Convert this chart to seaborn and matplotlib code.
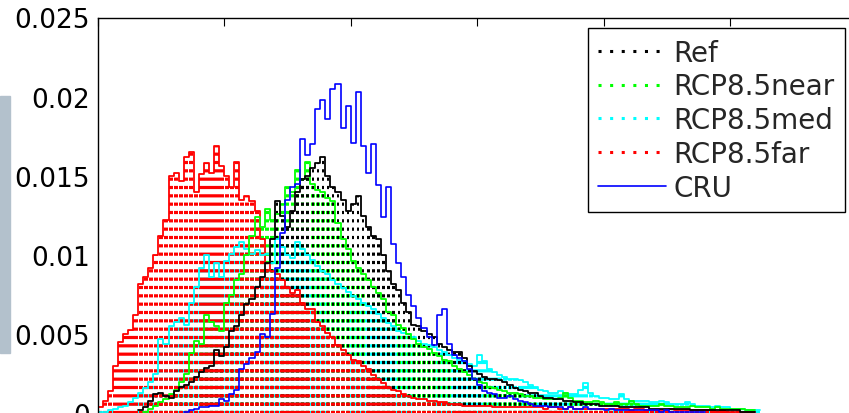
import numpy as np
import pandas as pd
import matplotlib
matplotlib.use("Agg")
import matplotlib.pyplot as plt
import seaborn as sns
from matplotlib.lines import Line2D
from matplotlib.patches import Rectangle

# ---------------- data (densities in units of 1e-4) ----------------
BIN_WIDTH = 0.04
DENSITY_UNIT = 1e-4

labels = ["Ref", "RCP8.5near", "RCP8.5med", "RCP8.5far", "CRU"]
colors = ["#000000", "#00ff00", "#00ffff", "#ff0000", "#0000ff"]

ref_start = 8
ref_vals = [2, 4,
            8, 12, 13, 11, 10, 14, 17, 18, 20, 23,
            26, 29, 30, 40, 36, 42, 52, 55, 62, 69,
            72, 80, 86, 95, 110, 134, 125, 118, 128, 140,
            148, 150, 155, 158, 162, 150, 143, 140, 135, 128,
            132, 137, 125, 118, 112, 110, 100, 90, 82, 78,
            70, 64, 56, 55, 52, 50, 48, 44, 42, 40,
            39, 39, 35, 30, 27, 25, 23, 22, 22, 21,
            20, 18, 16, 15, 14, 13, 13, 11, 10, 10,
            9, 9, 8, 8, 7, 7, 6, 6, 6, 5,
            5, 5, 5, 4, 4, 4, 4, 4, 4, 3,
            3, 3, 3, 3, 3, 3, 3, 2, 2, 2,
            2, 2, 2, 2, 2, 2, 2, 1, 1, 1]

near_start = 9
near_vals = [1,
             3, 5, 7, 9, 12, 15, 20, 25, 38, 46,
             44, 62, 58, 55, 52, 70, 75, 84, 88, 100,
             112, 124, 118, 129, 122, 126, 132, 143, 140, 154,
             148, 159, 145, 141, 140, 136, 134, 120, 110, 104,
             96, 92, 88, 84, 80, 76, 72, 64, 62, 56,
             54, 50, 47, 44, 42, 41, 38, 36, 34, 33,
             30, 28, 26, 24, 22, 20, 19, 17, 16, 15,
             14, 13, 13, 12, 11, 11, 10, 10, 9, 9,
             9, 10, 13, 10, 8, 8, 7, 7, 8, 7,
             6, 6, 7, 6, 6, 8, 6, 5, 5, 5,
             5, 6, 5, 5, 4, 4, 4, 5, 4, 4,
             4, 3, 4, 3, 3, 3, 3, 3, 2, 2]

med_start = 0
med_vals = [1, 1, 2, 3, 4, 5, 7, 10, 13, 16,
            20, 25, 47, 44, 55, 58, 60, 56, 70, 80,
            92, 100, 86, 95, 86, 96, 101, 105, 108, 104,
            101, 103, 100, 101, 95, 110, 105, 100, 98, 108,
            104, 100, 97, 93, 90, 88, 84, 82, 79, 77,
            74, 72, 70, 68, 66, 63, 60, 57, 55, 52,
            51, 50, 48, 46, 44, 43, 42, 40, 39, 37,
            35, 34, 33, 31, 30, 37, 33, 28, 26, 24,
            23, 22, 22, 21, 20, 18, 17, 15, 14, 13,
            13, 14, 13, 12, 12, 15, 19, 13, 11, 10,
            10, 9, 9, 12, 9, 8, 8, 8, 8, 7,
            7, 8, 7, 6, 6, 6, 7, 6, 5, 5,
            5, 4, 5, 4, 4, 3, 3, 3, 2, 2, 2]

far_start = 0
far_vals = [4, 8, 14, 30, 45, 50, 53, 62, 82, 86,
            92, 100, 112, 122, 150, 152, 147, 162, 165, 140,
            151, 158, 152, 169, 156, 150, 143, 159, 135, 137,
            134, 128, 110, 95, 90, 88, 84, 80, 76, 78,
            70, 66, 66, 58, 55, 51, 48, 43, 40, 37,
            34, 33, 30, 28, 24, 22, 19, 17, 15, 14,
            12, 11, 10, 9, 9, 8, 8, 7, 7, 6,
            6, 6, 5, 5, 5, 5, 5, 5, 4, 4,
            4, 4, 4, 4, 4, 4, 4, 4, 3, 4,
            4, 3, 3, 4, 3, 3, 3, 3, 3, 3,
            3, 3, 3, 3, 3, 2, 3, 3, 2, 2,
            2, 2, 2, 3, 2, 2, 2, 2, 2, 2,
            2, 2, 1, 2, 1, 1, 1, 1, 1, 1]

cru_start = 17
cru_vals = [1, 2, 3,
            4, 4, 5, 5, 9, 8, 12, 15, 28, 31,
            35, 39, 50, 48, 63, 92, 114, 135, 143, 145,
            173, 163, 170, 192, 198, 186, 205, 208, 180, 194,
            171, 203, 169, 152, 170, 144, 124, 143, 107, 95,
            86, 75, 68, 60, 54, 48, 43, 62, 66, 44,
            37, 35, 33, 28, 22, 18, 14, 13, 12, 10,
            10, 11, 9, 8, 7, 6, 5, 5, 5, 4,
            4, 4, 3, 4, 3, 3, 4, 3, 3, 3,
            2, 3, 2, 2, 2, 2, 2, 2, 2, 2,
            2, 1, 2, 1, 1, 1, 1, 1, 1, 1]

y_ticks = [0, 0.005, 0.01, 0.015, 0.02, 0.025]
y_tick_labels = ["0", "0.005", "0.01", "0.015", "0.02", "0.025"]
x_ticks = [0, 1, 2, 3, 4, 5, 6]


def series_frame(start, vals):
    n = len(vals)
    centers = (start + np.arange(n) + 0.5) * BIN_WIDTH
    df = pd.DataFrame({"x": centers, "w": np.asarray(vals, float) * DENSITY_UNIT})
    brange = (start * BIN_WIDTH, (start + n) * BIN_WIDTH - 0.01 * BIN_WIDTH)
    return df, brange


# ---------------- style ----------------
sns.set_style("white")
plt.rcParams["font.family"] = ["DejaVu Sans"]
plt.rcParams["hatch.linewidth"] = 2.3

fig = plt.figure(figsize=(8.49, 4.14), dpi=100)
ax = fig.add_axes([97.7 / 849, -0.5 / 414, 758.9 / 849, 396 / 414])

scen = {
    "Ref": (ref_start, ref_vals, colors[0]),
    "RCP8.5near": (near_start, near_vals, colors[1]),
    "RCP8.5med": (med_start, med_vals, colors[2]),
    "RCP8.5far": (far_start, far_vals, colors[3]),
}

# dashed texture of each scenario histogram (nested widths so overlaps mix)
texture = [("RCP8.5med", 0.95), ("RCP8.5near", 0.72), ("Ref", 0.46), ("RCP8.5far", 0.85)]
for name, shr in texture:
    start, vals, col = scen[name]
    df, brange = series_frame(start, vals)
    sns.histplot(data=df, x="x", weights="w", binwidth=BIN_WIDTH, binrange=brange,
                 element="bars", fill=False, color=col, edgecolor=col, linewidth=0,
                 hatch="--", shrink=shr, ax=ax)

# outlines
for name in ["RCP8.5far", "RCP8.5med", "RCP8.5near", "Ref"]:
    start, vals, col = scen[name]
    df, brange = series_frame(start, vals)
    sns.histplot(data=df, x="x", weights="w", binwidth=BIN_WIDTH, binrange=brange,
                 element="step", fill=False, color=col, linewidth=1.3, ax=ax)

df, brange = series_frame(cru_start, cru_vals)
sns.histplot(data=df, x="x", weights="w", binwidth=BIN_WIDTH, binrange=brange,
             element="step", fill=False, color=colors[4], linewidth=1.2, ax=ax)

ax.set_xlim(0, 6)
ax.set_ylim(0, 0.025)
ax.set_xticks(x_ticks)
ax.set_xticklabels([])
ax.set_yticks(y_ticks)
ax.set_yticklabels(y_tick_labels)
ax.set_xlabel("")
ax.set_ylabel("")
ax.tick_params(direction="in", length=5.8, width=0.8, top=True, right=True,
               labelsize=19, pad=5.5, colors="black")
for sp in ax.spines.values():
    sp.set_visible(True)
    sp.set_color("black")
    sp.set_linewidth(1.0)

handles = [
    Line2D([0], [0], color=colors[0], lw=2.2, linestyle=(0, (1, 2.8))),
    Line2D([0], [0], color=colors[1], lw=2.2, linestyle=(0, (1, 2.8))),
    Line2D([0], [0], color=colors[2], lw=2.2, linestyle=(0, (1, 2.8))),
    Line2D([0], [0], color=colors[3], lw=2.2, linestyle=(0, (1, 2.8))),
    Line2D([0], [0], color=colors[4], lw=1.2, linestyle="-"),
]
leg = ax.legend(handles, labels, loc="upper right", bbox_to_anchor=(0.9847, 0.9735),
                borderaxespad=0, fontsize=20, frameon=True, fancybox=False,
                framealpha=1, edgecolor="black", handlelength=2.45,
                handletextpad=0.25, labelspacing=0.21, borderpad=0.38)
leg.get_frame().set_linewidth(1.0)
leg.set_zorder(10)

fig.patches.append(Rectangle((0, (414 - 354) / 414), 10 / 849, (354 - 97) / 414,
                             transform=fig.transFigure, color="#b3c1cc", zorder=0))

fig.savefig("out.png", dpi=100)
